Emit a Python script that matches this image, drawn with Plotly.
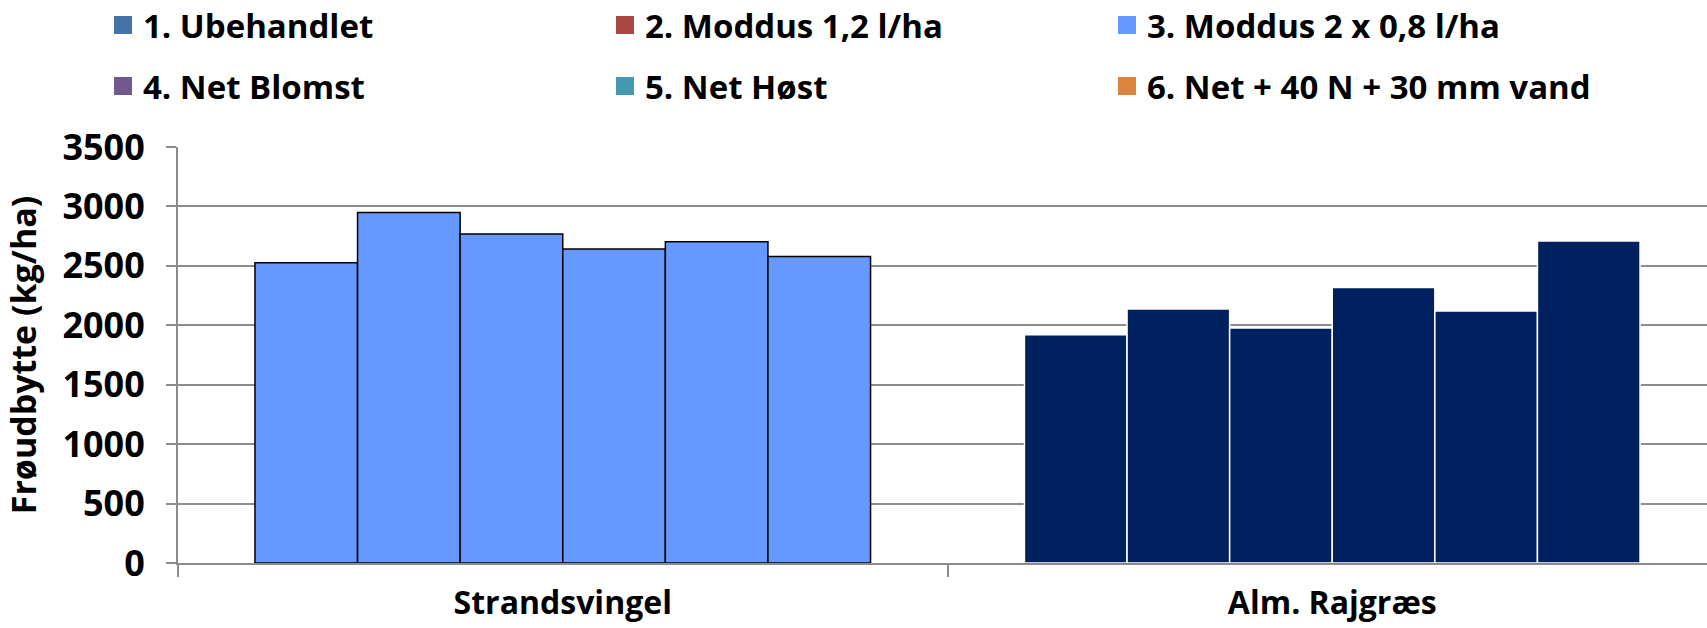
import plotly.graph_objects as go

categories = ["Strandsvingel", "Alm. Rajgræs"]
series_names = [
    "1. Ubehandlet",
    "2. Moddus 1,2 l/ha",
    "3. Moddus 2 x 0,8 l/ha",
    "4. Net Blomst",
    "5. Net Høst",
    "6. Net + 40 N + 30 mm vand",
]
# values[series][category]
values = [
    [2527, 1920],
    [2948, 2137],
    [2767, 1978],
    [2642, 2318],
    [2703, 2121],
    [2578, 2709],
]
legend_colors = ["#4572A7", "#AA4643", "#6699FF", "#71588F", "#4198AF", "#DB843D"]
category_fill = ["#6699FF", "#002060"]
category_outline = ["#000000", "#FFFFFF"]

FONT = "Open Sans"
W, H = 1707, 628

fig = go.Figure()

for i, name in enumerate(series_names):
    fig.add_trace(go.Bar(
        name=name, x=categories, y=values[i], showlegend=False,
        marker=dict(color=category_fill, line=dict(color=category_outline, width=1.5)),
    ))

for i, name in enumerate(series_names):
    fig.add_trace(go.Scatter(
        name=name, x=[None], y=[None], mode="markers",
        marker=dict(symbol="square", size=16, color=legend_colors[i],
                    line=dict(color=legend_colors[i], width=2)),
        legend="legend" if i < 3 else "legend2",
    ))

legend_common = dict(
    orientation="h", xref="container", yref="container",
    xanchor="left", yanchor="middle",
    entrywidth=457, entrywidthmode="pixels",
    font=dict(family=FONT, size=33, color="#000000", weight="bold"),
    bgcolor="rgba(0,0,0,0)", itemclick=False, itemdoubleclick=False,
)

fig.update_layout(
    width=W, height=H,
    paper_bgcolor="white", plot_bgcolor="white",
    margin=dict(l=177.5, r=0, t=146.7, b=64.7, autoexpand=False),
    barmode="group", bargap=0.2, bargroupgap=0,
    font=dict(family=FONT, size=34, color="#000000", weight="bold"),
    legend=dict(x=103 / W, y=1 - 25 / H, **legend_common),
    legend2=dict(x=103 / W, y=1 - 86 / H, **legend_common),
    xaxis=dict(
        type="category", range=[-0.5, 1.487],
        showline=True, linecolor="#8C8C8C", linewidth=2,
        ticks="outside", tickson="boundaries", ticklen=12, tickwidth=2, tickcolor="#8C8C8C",
        ticklabelstandoff=11,
        tickfont=dict(family=FONT, size=32, weight="bold"),
        showgrid=False, zeroline=False, automargin=False,
    ),
    yaxis=dict(
        range=[0, 3500], tickvals=[0, 500, 1000, 1500, 2000, 2500, 3000, 3500],
        showline=True, linecolor="#8C8C8C", linewidth=2,
        showgrid=True, gridcolor="#8C8C8C", gridwidth=1.5,
        ticks="outside", ticklen=10, tickwidth=1.5, tickcolor="#8C8C8C",
        ticklabelstandoff=14,
        tickfont=dict(family=FONT, size=36, weight="bold"),
        zeroline=False, automargin=False,
        title=dict(text="Frøudbytte (kg/ha)", standoff=22,
                   font=dict(family=FONT, size=34, weight="bold")),
    ),
)

fig.write_html("out.html", config={"displayModeBar": False},
               post_script="document.body.style.margin='0';")
